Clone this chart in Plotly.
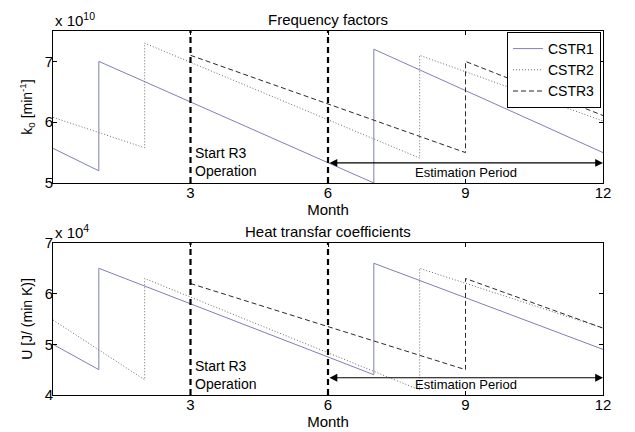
import plotly.graph_objects as go

# ---- data (months, values) ----
# Top panel: frequency factors (x 1e10 min^-1)
k_cstr1_x = [0, 1, 1, 7, 7, 12]
k_cstr1_y = [5.57, 5.2, 7.0, 5.0, 7.2, 5.5]
k_cstr2_x = [0, 2, 2, 8, 8, 12]
k_cstr2_y = [6.08, 5.58, 7.3, 5.41, 7.1, 6.02]
k_cstr3_x = [3, 9, 9, 12]
k_cstr3_y = [7.1, 5.5, 7.0, 6.11]

# Bottom panel: heat transfer coefficients (x 1e4 J/(min K))
u_cstr1_x = [0, 1, 1, 7, 7, 12]
u_cstr1_y = [5.0, 4.5, 6.5, 4.4, 6.6, 4.9]
u_cstr2_x = [0, 2, 2, 8, 8, 12]
u_cstr2_y = [5.48, 4.3, 6.3, 4.1, 6.5, 5.32]
u_cstr3_x = [3, 9, 9, 12]
u_cstr3_y = [6.2, 4.5, 6.3, 5.32]

month_ticks = [3, 6, 9, 12]
k_ticks = [5, 6, 7]
u_ticks = [4, 5, 6, 7]
series_names = ["CSTR1", "CSTR2", "CSTR3"]
event_months = [3, 6]
estimation_period = [6, 12]

FONT = "Liberation Sans, Arial, sans-serif"
c1, c2, c3 = "#7e80b4", "#6a6a6a", "#2a2a2a"
styles = [(c1, "solid"), (c2, "1px,2px"), (c3, "5px,3px")]

fig = go.Figure()
top = [(k_cstr1_x, k_cstr1_y), (k_cstr2_x, k_cstr2_y), (k_cstr3_x, k_cstr3_y)]
bot = [(u_cstr1_x, u_cstr1_y), (u_cstr2_x, u_cstr2_y), (u_cstr3_x, u_cstr3_y)]
for i, ((x, y), (col, dash)) in enumerate(zip(top, styles)):
    fig.add_trace(go.Scatter(x=x, y=y, mode="lines", name=series_names[i],
                             line=dict(color=col, width=1, dash=dash),
                             xaxis="x", yaxis="y", showlegend=True))
for i, ((x, y), (col, dash)) in enumerate(zip(bot, styles)):
    fig.add_trace(go.Scatter(x=x, y=y, mode="lines", name=series_names[i],
                             line=dict(color=col, width=1, dash=dash),
                             xaxis="x2", yaxis="y2", showlegend=False))

W, H = 635, 432
xd = [53 / W, 603 / W]
yd_top = [1 - 183 / H, 1 - 31 / H]
yd_bot = [1 - 395 / H, 1 - 243 / H]

axcommon = dict(showgrid=False, zeroline=False, showline=True, linecolor="black",
                linewidth=1, mirror="ticks", ticks="inside", ticklen=4,
                tickcolor="black", automargin=False,
                tickfont=dict(family=FONT, size=15, color="black"))
xcommon = dict(axcommon, ticklabelstandoff=-4)
ycommon = dict(axcommon, ticklabelstandoff=-4)

fig.update_layout(
    width=W, height=H,
    margin=dict(l=0, r=0, t=0, b=0, autoexpand=False),
    paper_bgcolor="white", plot_bgcolor="white",
    font=dict(family=FONT, size=14, color="black"),
    xaxis=dict(domain=xd, range=[0, 12], tickvals=month_ticks, anchor="y",
               title=dict(text="Month", standoff=0, font=dict(size=15)), **xcommon),
    yaxis=dict(domain=yd_top, range=[5, 7.5], tickvals=k_ticks, anchor="x",
               title=dict(text="k<sub>0</sub> [min<sup>-1</sup>]", standoff=8,
                          font=dict(size=14)), **ycommon),
    xaxis2=dict(domain=xd, range=[0, 12], tickvals=month_ticks, anchor="y2",
                title=dict(text="Month", standoff=0, font=dict(size=15)), **xcommon),
    yaxis2=dict(domain=yd_bot, range=[4, 7], tickvals=u_ticks, anchor="x2",
                title=dict(text="U [J/ (min K)]", standoff=8, font=dict(size=14)), **ycommon),
    legend=dict(x=xd[1] - 2 / W, y=yd_top[1] - 1 / H, xanchor="right", yanchor="top",
                bgcolor="white", bordercolor="black", borderwidth=1,
                font=dict(family=FONT, size=14), tracegroupgap=0,
                itemwidth=30, traceorder="normal"),
    showlegend=True,
)

shapes = []
annotations = []
for xa, ya, y_arrow, y_text, y_start in [("x", "y", 5.33, 5.18, 5.65), ("x2", "y2", 4.34, 4.2, 4.76)]:
    for m in event_months:
        shapes.append(dict(type="line", xref=xa, yref=f"{ya} domain", x0=m, x1=m, y0=0, y1=1,
                           line=dict(color="black", width=2.2, dash="6px,4px")))
    annotations.append(dict(xref=xa, yref=ya, x=estimation_period[1], y=y_arrow,
                            ax=estimation_period[0], ay=y_arrow, axref=xa, ayref=ya,
                            showarrow=True, arrowhead=2, arrowside="end+start",
                            arrowsize=1.3, arrowwidth=1.2, arrowcolor="black", text=""))
    annotations.append(dict(xref=xa, yref=ya, x=sum(estimation_period) / 2, y=y_text,
                            text="Estimation Period", showarrow=False,
                            yanchor="middle", font=dict(size=13)))
    annotations.append(dict(xref=xa, yref=ya, x=event_months[0], y=y_start, xshift=2,
                            text="Start R3<br>Operation", showarrow=False, align="left",
                            xanchor="left", yanchor="top", font=dict(size=14)))

annotations.append(dict(xref="paper", yref="paper", x=(53 + 603) / 2 / W, y=yd_top[1],
                        yanchor="bottom", yshift=1, text="Frequency factors", showarrow=False,
                        font=dict(size=15)))
annotations.append(dict(xref="paper", yref="paper", x=(53 + 603) / 2 / W, y=yd_bot[1],
                        yanchor="bottom", yshift=1, text="Heat transfar coefficients",
                        showarrow=False, font=dict(size=15)))
annotations.append(dict(xref="paper", yref="paper", x=xd[0], y=yd_top[1], xanchor="left",
                        yanchor="bottom", text="x 10<sup>10</sup>", showarrow=False,
                        font=dict(size=15)))
annotations.append(dict(xref="paper", yref="paper", x=xd[0], y=yd_bot[1], xanchor="left",
                        yanchor="bottom", text="x 10<sup>4</sup>", showarrow=False,
                        font=dict(size=15)))

fig.update_layout(shapes=shapes, annotations=annotations)
fig.write_html("out.html", config={"displayModeBar": False},
               post_script="document.body.style.margin='0';document.body.style.overflow='hidden';")
